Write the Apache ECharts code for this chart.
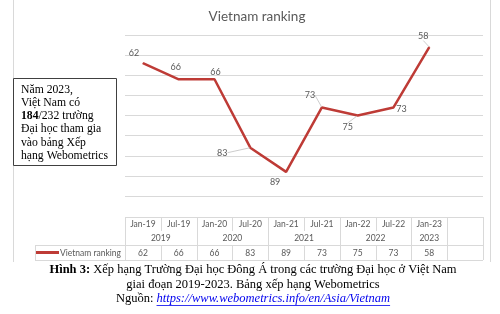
<!DOCTYPE html>
<html>
<head>
<meta charset="utf-8">
<script src="https://cdn.jsdelivr.net/npm/echarts@6/dist/echarts.min.js"></script>
<style>
html,body{margin:0;padding:0;background:#fff;}
#c{width:500px;height:314px;}
</style>
</head>
<body>
<div id="c"></div>
<script>
// ---- data ----
const categories = ['Jan-19','Jul-19','Jan-20','Jul-20','Jan-21','Jul-21','Jan-22','Jul-22','Jan-23',''];
const rankings = [62, 66, 66, 83, 89, 73, 75, 73, 58];
const yearLabels = ['2019','2020','2021','2022','2023'];
const yearSpans = [2, 2, 2, 2, 1];
const seriesName = 'Vietnam ranking';
const titleText = 'Vietnam ranking';
const noteLines = [
  [{t:'Năm 2023,'}],
  [{t:'Việt Nam có'}],
  [{t:'184',b:true},{t:'/232 trường'}],
  [{t:'Đại học tham gia'}],
  [{t:'vào bảng Xếp'}],
  [{t:'hạng Webometrics'}]
];
const captionBold = 'Hình 3:';
const caption1 = ' Xếp hạng Trường Đại học Đông Á trong các trường Đại học ở Việt Nam';
const caption2 = 'giai đoạn 2019-2023. Bảng xếp hạng Webometrics';
const sourceLabel = 'Nguồn: ';
const sourceUrl = 'https://www.webometrics.info/en/Asia/Vietnam';

// ---- styling ----
const RED = '#BE3B36';
const GREY = '#595959';
const GRID = '#d9d9d9';
const SANS = 'Lato, "Open Sans", sans-serif';
const SERIF = '"Liberation Serif", "DejaVu Serif", serif';
const CAP = 12.5;
const labelShift = [[-9,-10],[-3,-12],[1,-7],[-28,5],[-11,10],[-12,-12],[-10,12],[8,2],[-6,-11]];
const leader = [false,false,false,true,false,true,true,false,true];

const chart = echarts.init(document.getElementById('c'), null, {renderer:'canvas'});

const option = {
  animation: false,
  backgroundColor: '#fff',
  title: {
    text: titleText, left: 252, top: 5, textAlign: 'center',
    textStyle: {fontFamily: SANS, fontSize: 13.5, fontWeight: 'normal', color: GREY}
  },
  grid: {left: 125, right: 17, top: 35, bottom: 118},
  xAxis: {
    type: 'category', data: categories, boundaryGap: true,
    axisLine: {show: false}, axisTick: {show: false}, axisLabel: {show: false}
  },
  yAxis: {
    type: 'value', inverse: true, min: 55, max: 95, interval: 5,
    axisLine: {show: false}, axisTick: {show: false}, axisLabel: {show: false},
    splitLine: {lineStyle: {color: GRID, width: 1}}
  },
  series: [{
    type: 'line', name: seriesName,
    data: rankings.map((v, i) => ({
      value: v,
      labelLine: {show: leader[i], lineStyle: {color: '#bfbfbf', width: 0.8}}
    })),
    symbol: 'circle', symbolSize: 1,
    itemStyle: {color: RED},
    lineStyle: {color: RED, width: 2.5},
    label: {
      show: true, position: 'inside', align: 'center', verticalAlign: 'middle',
      fontFamily: SANS, fontSize: 9, color: GREY
    },
    labelLayout: function (p) {
      const s = labelShift[p.dataIndex] || [0, -8];
      return {dx: s[0], dy: s[1]};
    }
  }]
};
chart.setOption(option);

// ---- data table, frame, note and caption as graphics ----
function buildGraphics() {
  const g = [];
  const cx = i => chart.convertToPixel({xAxisIndex: 0}, i);
  const bw = cx(1) - cx(0);
  const left = i => cx(i) - bw / 2;
  const n = categories.length;
  const tLeft = left(0), tRight = left(n - 1) + bw;
  const yTop = 217, yMid = 245, yBot = 260;
  const line = (x1, y1, x2, y2, color) => ({
    type: 'line', shape: {x1, y1, x2, y2}, silent: true,
    style: {stroke: color || GRID, lineWidth: 1}
  });
  const txt = (x, y, t, extra) => ({
    type: 'text', x, y, silent: true,
    style: Object.assign({text: t, fill: GREY, font: '8.5px ' + SANS, align: 'center', verticalAlign: 'middle'}, extra || {})
  });
  // chart frame
  g.push(line(13.5, 0, 13.5, 262));
  g.push(line(490.5, 0, 490.5, 262));
  // horizontal lines
  g.push(line(tLeft, yTop + 0.5, tRight, yTop + 0.5));
  g.push(line(35, yMid + 0.5, tRight, yMid + 0.5));
  g.push(line(35, yBot + 0.5, tRight, yBot + 0.5));
  g.push(line(35.5, yMid, 35.5, yBot));
  // month separators (top row)
  for (let i = 0; i <= n; i++) {
    const x = Math.round(i < n ? left(i) : tRight) + 0.5;
    g.push(line(x, yTop, x, 231));
  }
  // year group boundaries
  let idx = 0;
  const bounds = [0];
  yearSpans.forEach(s => { idx += s; bounds.push(idx); });
  bounds.push(n);
  bounds.forEach(b => {
    const x = Math.round(b < n ? left(b) : tRight) + 0.5;
    g.push(line(x, yTop, x, yMid));
  });
  // value separators
  for (let i = 0; i <= n; i++) {
    const x = Math.round(i < n ? left(i) : tRight) + 0.5;
    g.push(line(x, yMid, x, yBot));
  }
  // month labels
  categories.forEach((c, i) => { if (c) g.push(txt(cx(i), 224.5, c)); });
  // year labels
  idx = 0;
  yearLabels.forEach((y, k) => {
    const a = left(idx), b = left(idx + yearSpans[k] - 1) + bw;
    g.push(txt((a + b) / 2, 238.5, y));
    idx += yearSpans[k];
  });
  // values
  rankings.forEach((v, i) => g.push(txt(cx(i), 253, String(v))));
  // legend key
  g.push({type: 'line', shape: {x1: 36, y1: 252.5, x2: 59, y2: 252.5}, silent: true, style: {stroke: RED, lineWidth: 3}});
  g.push(txt(60, 253, seriesName, {align: 'left'}));

  // note box
  g.push({type: 'rect', shape: {x: 13.5, y: 78.5, width: 103, height: 87}, silent: true,
    style: {fill: '#fff', stroke: '#404040', lineWidth: 1}});
  noteLines.forEach((parts, li) => {
    const rich = {n: {font: '11.7px ' + SERIF, fill: '#000'}, b: {font: 'bold 11.7px ' + SERIF, fill: '#000'}};
    const t = parts.map(p => '{' + (p.b ? 'b' : 'n') + '|' + p.t + '}').join('');
    g.push({type: 'text', x: 21, y: 89.5 + li * 13.3, silent: true,
      style: {text: t, rich, align: 'left', verticalAlign: 'middle', font: '11.7px ' + SERIF}});
  });

  // caption
  g.push({type: 'text', x: 253, y: 270, silent: true, style: {
    text: '{b|' + captionBold + '}{n|' + caption1 + '}', align: 'center', verticalAlign: 'middle',
    rich: {b: {font: 'bold ' + CAP + 'px ' + SERIF, fill: '#000'}, n: {font: CAP + 'px ' + SERIF, fill: '#000'}}
  }});
  g.push({type: 'text', x: 253, y: 285, silent: true, style: {
    text: caption2, align: 'center', verticalAlign: 'middle', font: CAP + 'px ' + SERIF, fill: '#000'
  }});
  g.push({type: 'text', x: 253, y: 299, silent: true, style: {
    text: '{n|' + sourceLabel + '}{u|' + sourceUrl + '}', align: 'center', verticalAlign: 'middle',
    rich: {n: {font: CAP + 'px ' + SERIF, fill: '#000'},
           u: {font: 'italic ' + CAP + 'px ' + SERIF, fill: '#0000EE'}}
  }});
  return g;
}
const gfx = buildGraphics();
// underline for URL (measured)
const ctx = document.createElement('canvas').getContext('2d');
ctx.font = CAP + 'px ' + SERIF;
const wN = ctx.measureText(sourceLabel).width;
ctx.font = 'italic ' + CAP + 'px ' + SERIF;
const wU = ctx.measureText(sourceUrl).width;
const startX = 253 - (wN + wU) / 2 + wN;
gfx.push({type: 'line', shape: {x1: startX, y1: 305.5, x2: startX + wU, y2: 305.5}, silent: true, style: {stroke: '#0000EE', lineWidth: 0.8}});
chart.setOption({graphic: {elements: gfx}});
</script>
</body>
</html>
